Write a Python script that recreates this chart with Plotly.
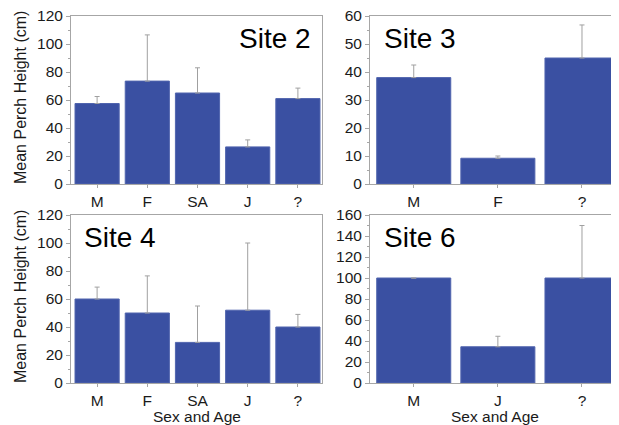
import plotly.graph_objects as go

# ---- data ----
cats_site2 = ["M", "F", "SA", "J", "?"]
mean_site2 = [57.5, 73.5, 65, 26.5, 61]
err_site2 = [5, 33, 18, 5, 7.5]

cats_site3 = ["M", "F", "?"]
mean_site3 = [38, 9.2, 45]
err_site3 = [4.5, 0.8, 11.8]

cats_site4 = ["M", "F", "SA", "J", "?"]
mean_site4 = [60, 50, 29, 52, 40]
err_site4 = [8.5, 26.5, 26, 48, 9]

cats_site6 = ["M", "J", "?"]
mean_site6 = [100, 34.5, 100]
err_site6 = [None, 10, 50]

panels = [
    ("Site 2", cats_site2, mean_site2, err_site2, [0, 120], 20),
    ("Site 3", cats_site3, mean_site3, err_site3, [0, 60], 10),
    ("Site 4", cats_site4, mean_site4, err_site4, [0, 120], 20),
    ("Site 6", cats_site6, mean_site6, err_site6, [0, 160], 20),
]

OFF = 8  # page body margin
W, H = 619 - OFF, 425 - OFF
# pixel boxes in window coords (x0, x1, ytop, ybottom)
boxes = [(71, 322, 16, 184), (370, 619, 16, 184), (71, 322, 215, 383), (370, 619, 215, 383)]
title_x = [0.965, 0.048, 0.045, 0.05]

BAR = "#3a50a2"
GRID = "#a6a6a6"
FONT = "Liberation Sans, Arial, sans-serif"

fig = go.Figure()
layout = dict(
    width=W, height=H, margin=dict(l=0, r=0, t=0, b=0, autoexpand=False),
    paper_bgcolor="white", plot_bgcolor="white", showlegend=False,
    font=dict(family=FONT, color="#1a1a1a", size=15),
    bargap=0.12,
)
annotations = []
for i, ((title, cats, vals, errs, yr, dt), box) in enumerate(zip(panels, boxes)):
    x0, x1, yt, yb = [v - OFF for v in box]
    n = i + 1
    xa = "x" if n == 1 else f"x{n}"
    ya = "y" if n == 1 else f"y{n}"
    fig.add_trace(go.Bar(
        x=list(range(len(cats))), y=vals, xaxis=xa, yaxis=ya,
        marker=dict(color=BAR, line=dict(color="#5064ae", width=1)),
        error_y=dict(type="data", array=errs, symmetric=False, arrayminus=[0]*len(errs),
                     color="#a0a0a0", thickness=1, width=2.5),
    ))
    ncat = len(cats)
    xr = [-0.52, 4.48] if ncat == 5 else [-0.52, 2.44]
    layout[f"xaxis{'' if n == 1 else n}"] = dict(
        domain=[x0 / W, min(x1 / W, 1)], anchor=ya, range=xr, automargin=False,
        tickmode="array", tickvals=list(range(ncat)), ticktext=cats,
        ticks="outside", ticklen=3, tickcolor=GRID, tickwidth=1,
        showline=True, linecolor=GRID, linewidth=1, mirror=True,
        showgrid=False, zeroline=False, tickfont=dict(size=15.5),
        ticklabeloverflow="allow",
    )
    layout[f"yaxis{'' if n == 1 else n}"] = dict(
        domain=[1 - yb / H, 1 - yt / H], anchor=xa, range=yr, automargin=False,
        dtick=dt, ticks="outside", ticklen=4, tickcolor=GRID, tickwidth=1,
        minor=dict(dtick=dt / 2, ticks="outside", ticklen=2, tickcolor=GRID),
        showline=True, linecolor=GRID, linewidth=1, mirror=True,
        showgrid=False, zeroline=False, tickfont=dict(size=15.5),
        ticklabeloverflow="allow",
    )
    annotations.append(dict(x=title_x[i], y=0.97, xref=f"{xa} domain", yref=f"{ya} domain",
                            xanchor="right" if n == 1 else "left", yanchor="top",
                            text=title, showarrow=False,
                            font=dict(size=28, color="black")))
    if n in (1, 3):
        annotations.append(dict(x=(20 - OFF) / W, y=1 - ((yt + yb) / 2 - 2) / H,
                                xref="paper", yref="paper",
                                xanchor="center", yanchor="middle", textangle=-90,
                                text="Mean Perch Height (cm)", showarrow=False,
                                font=dict(size=16)))
    if n >= 3:
        annotations.append(dict(x=(x0 + x1) / 2 / W, y=1 - (416 - OFF) / H,
                                xref="paper", yref="paper",
                                xanchor="center", yanchor="middle",
                                text="Sex and Age", showarrow=False, font=dict(size=15.5)))
layout["annotations"] = annotations
fig.update_layout(**layout)
fig.write_html("out.html")
